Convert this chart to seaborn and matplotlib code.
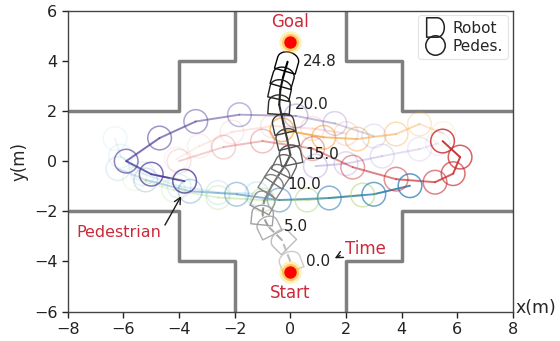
import numpy as np
import matplotlib
matplotlib.use("Agg")
import matplotlib.pyplot as plt
from matplotlib.path import Path
from matplotlib.markers import MarkerStyle
from matplotlib.transforms import Affine2D
from matplotlib.lines import Line2D
import matplotlib.colors as mcolors
import seaborn as sns

sns.set_theme(style="ticks")
plt.rcParams["font.family"] = ["DejaVu Sans"]

# ---------------- data ----------------
# walls of the cross-shaped corridor
wall_tl_x = [-8, -4, -4, -2, -2]
wall_tl_y = [2, 2, 4, 4, 6]
wall_tr_x = [2, 2, 4, 4, 8]
wall_tr_y = [6, 4, 4, 2, 2]
wall_bl_x = [-8, -4, -4, -2, -2]
wall_bl_y = [-2, -2, -4, -4, -6]
wall_br_x = [2, 2, 4, 4, 8]
wall_br_y = [-6, -4, -4, -2, -2]

start_xy = (0.0, -4.4)
goal_xy = (0.0, 4.75)

# robot poses over time (s, m, m)
robot_t = [0.0, 2.5, 5.0, 6.5, 8.0, 10.0, 11.5, 13.0, 15.0, 16.5, 18.0,
           20.0, 21.5, 23.0, 24.8]
robot_x = [0.0, -0.3, -0.8, -1.0, -0.95, -0.65, -0.42, -0.18, 0.0, -0.12, -0.25,
           -0.4, -0.36, -0.26, -0.1]
robot_y = [-4.0, -3.15, -2.6, -2.15, -1.6, -0.95, -0.55, -0.15, 0.25, 0.9, 1.5,
           2.25, 2.85, 3.35, 3.96]
time_labels = [0.0, 5.0, 10.0, 15.0, 20.0, 24.8]

# pedestrian trajectories (earliest -> latest)
ped_cyan_x = [-6.3, -6.1, -5.3, -4.0, -2.6, -1.2]
ped_cyan_y = [0.9, 0.2, -0.5, -1.0, -1.25, -1.3]
ped_pink_x = [-4.1, -3.27, -2.1, -0.64, 0.8, 2.0]
ped_pink_y = [0.08, 0.6, 1.16, 1.4, 1.3, 1.1]
ped_lavender_x = [5.3, 4.64, 3.3, 2.0, 0.9]
ped_lavender_y = [0.7, 0.48, 0.2, -0.1, -0.2]
ped_green_x = [-5.6, -4.2, -2.6, -1.0, 0.6, 2.6]
ped_green_y = [-0.7, -1.15, -1.45, -1.55, -1.55, -1.35]
ped_orange_x = [5.5, 4.64, 3.8, 2.4, 1.2, -0.3]
ped_orange_y = [1.1, 1.48, 1.08, 0.88, 0.95, 1.25]
ped_blue_x = [-6.2, -5.2, -3.6, -1.93, -0.4, 1.4, 3.0, 4.3]
ped_blue_y = [-0.3, -0.75, -1.2, -1.32, -1.55, -1.47, -1.32, -0.98]
ped_red_x = [-4.0, -2.4, -1.0, 0.8, 2.24, 3.8, 5.2, 5.85, 6.1, 5.47]
ped_red_y = [0.0, 0.56, 0.8, 0.5, -0.24, -0.72, -0.84, -0.5, 0.16, 0.8]
ped_purple_x = [3.0, 1.6, 0.2, -1.83, -3.4, -4.7, -5.9, -5.0, -3.8]
ped_purple_y = [1.0, 1.5, 1.8, 1.85, 1.58, 0.92, 0.0, -0.52, -0.8]

pedestrians = [
    (ped_cyan_x, ped_cyan_y, "#7fc8e0", 0.35),
    (ped_pink_x, ped_pink_y, "#f2a09a", 0.35),
    (ped_lavender_x, ped_lavender_y, "#a996d8", 0.5),
    (ped_green_x, ped_green_y, "#a8d46a", 0.6),
    (ped_orange_x, ped_orange_y, "#f4a43a", 0.8),
    (ped_blue_x, ped_blue_y, "#2f7fb5", 0.9),
    (ped_red_x, ped_red_y, "#c8282a", 0.95),
    (ped_purple_x, ped_purple_y, "#4f3d9c", 0.95),
]

RED_TEXT = "#cc2a3a"
WALL = "#7f7f7f"

# ---------------- figure ----------------
fig, ax = plt.subplots(figsize=(5.6, 3.41), dpi=100)
fig.subplots_adjust(left=0.121, right=0.916, bottom=0.086, top=0.969)


def ramp(color, n, a0, a1):
    base = np.array(mcolors.to_rgba(color))
    out = np.tile(base, (n, 1))
    out[:, 3] = np.linspace(a0, a1, n)
    return out


# walls
for wx, wy in [(wall_tl_x, wall_tl_y), (wall_tr_x, wall_tr_y),
               (wall_bl_x, wall_bl_y), (wall_br_x, wall_br_y)]:
    sns.lineplot(x=wx, y=wy, sort=False, estimator=None, color=WALL,
                 lw=2.5, ax=ax, zorder=2)

# pedestrians: trail line + circles fading in with time
for px, py, col, amax in pedestrians:
    n = len(px)
    alphas = np.linspace(0.12, amax, n)
    for i in range(n - 1):
        sns.lineplot(x=px[i:i + 2], y=py[i:i + 2], sort=False, estimator=None,
                     color=col, alpha=float(alphas[i + 1]), lw=1.4, ax=ax, zorder=3)
    sns.scatterplot(x=px, y=py, s=290, marker="o", ax=ax, zorder=4,
                    facecolor="none", edgecolor=col, linewidth=1.1)
    coll = ax.collections[-1]
    coll.set_facecolor("none")
    coll.set_edgecolor(ramp(col, n, 0.12, amax * 0.85))

# robot marker shape: flat back, rounded nose pointing +x
th = np.linspace(-np.pi / 2, np.pi / 2, 15)
nose = np.column_stack([0.1 + 0.4 * np.cos(th), 0.55 * np.sin(th)])
verts = np.vstack([[[-0.5, -0.55]], nose, [[-0.5, 0.55]], [[-0.5, -0.55]]])
codes = [Path.MOVETO] + [Path.LINETO] * (len(verts) - 2) + [Path.CLOSEPOLY]
robot_path = Path(verts, codes)

rx = np.array(robot_x)
ry = np.array(robot_y)
nr = len(rx)
grey = np.linspace(0.8, 0.0, nr)

# robot path line
for i in range(nr - 1):
    g = float(grey[i + 1])
    sns.lineplot(x=robot_x[i:i + 2], y=robot_y[i:i + 2], sort=False, estimator=None,
                 color=(g, g, g), lw=1.5, ls="--" if robot_t[i] < 8 else "-",
                 ax=ax, zorder=6)

# robot footprints oriented along the heading
for i in range(nr):
    j0, j1 = (i, i + 1) if i < nr - 1 else (i - 1, i)
    ang = np.degrees(np.arctan2((ry[j1] - ry[j0]) * 25.0, (rx[j1] - rx[j0]) * 27.8))
    m = MarkerStyle(robot_path, transform=Affine2D().rotate_deg(ang))
    g = float(grey[i])
    sns.scatterplot(x=[robot_x[i]], y=[robot_y[i]], marker=m, s=240, ax=ax,
                    facecolor="none", edgecolor=(g, g, g), linewidth=1.0, zorder=7)
    ax.collections[-1].set_facecolor("none")

# time stamps next to the robot
for tl in time_labels:
    k = int(np.argmin(np.abs(np.array(robot_t) - tl)))
    ax.text(robot_x[k] + 0.55, robot_y[k], f"{tl:.1f}", fontsize=11,
            va="center", ha="left", color="#222222", zorder=8)

# start and goal
for (gx, gy) in [start_xy, goal_xy]:
    ax.scatter([gx], [gy], s=260, color="#ffd23a", alpha=0.35, lw=0, zorder=8)
    ax.scatter([gx], [gy], s=150, color="#ffb020", alpha=0.6, lw=0, zorder=8)
    ax.scatter([gx], [gy], s=80, color="#ff0000", lw=0, zorder=9)
ax.text(goal_xy[0], goal_xy[1] + 0.8, "Goal", color=RED_TEXT, fontsize=12,
        ha="center", va="center", zorder=9)
ax.text(start_xy[0], start_xy[1] - 0.85, "Start", color=RED_TEXT, fontsize=12,
        ha="center", va="center", zorder=9)

ax.annotate("Time", xy=(1.55, -3.9), xytext=(1.95, -3.52), color=RED_TEXT,
            fontsize=12, va="center", ha="left", zorder=9,
            arrowprops=dict(arrowstyle="->", color="k", lw=1.0, relpos=(0.0, 0.3),
                            shrinkA=1, shrinkB=1))
ax.annotate("Pedestrian", xy=(-3.9, -1.35), xytext=(-6.15, -2.84), color=RED_TEXT,
            fontsize=11.5, va="center", ha="center", zorder=9,
            arrowprops=dict(arrowstyle="->", color="k", lw=1.0, relpos=(1.0, 0.6),
                            shrinkA=0, shrinkB=1))

# axes
ax.set_xlim(-8, 8)
ax.set_ylim(-6, 6)
ax.set_xticks(np.arange(-8, 9, 2))
ax.set_yticks(np.arange(-6, 7, 2))
ax.tick_params(labelsize=11.5, length=4, width=1, colors="#222222")
for sp in ax.spines.values():
    sp.set_visible(True)
    sp.set_color("#444444")
    sp.set_linewidth(1.0)
ax.set_xlabel("")
ax.set_ylabel("y(m)", fontsize=12, labelpad=4)
ax.text(1.006, 0.012, "x(m)", transform=ax.transAxes, fontsize=12.5,
        ha="left", va="center")

handles = [
    Line2D([], [], ls="", marker=robot_path, markersize=14, mfc="none",
           mec="#222222", mew=1.1),
    Line2D([], [], ls="", marker="o", markersize=14, mfc="none",
           mec="#222222", mew=1.1),
]
leg = ax.legend(handles, ["Robot", "Pedes."], loc="upper right", fontsize=11,
                frameon=True, borderpad=0.35, labelspacing=0.2,
                handletextpad=0.4, handlelength=1.5, borderaxespad=0.3)
leg.get_frame().set_edgecolor("#dddddd")
leg.get_frame().set_linewidth(0.8)

fig.savefig("out.png", dpi=100)
